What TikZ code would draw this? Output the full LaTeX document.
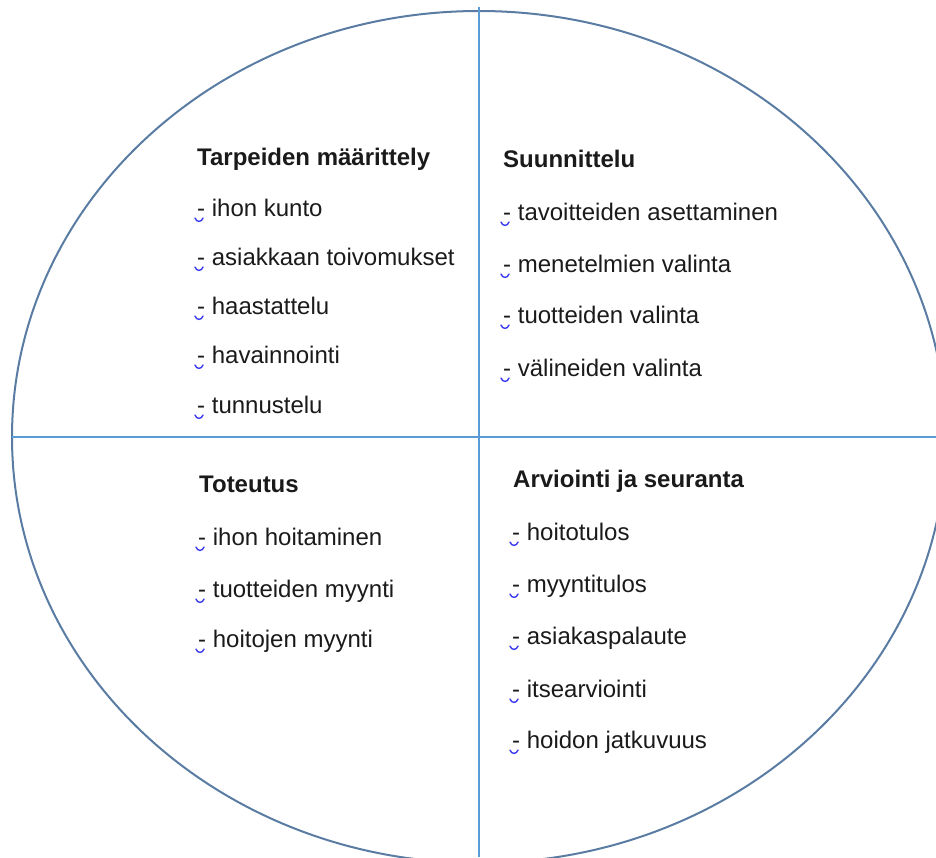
\documentclass[tikz,border=0pt]{standalone}
\usepackage{fontspec}
\setmainfont{Liberation Sans}
\definecolor{ellcol}{HTML}{5A7CA3}
\definecolor{divcol}{HTML}{5B9BD5}
\definecolor{txtcol}{HTML}{1A1A1A}
\definecolor{markcol}{HTML}{3A3AF0}
\tikzset{
  item/.style={anchor=base west, inner sep=0pt, text=txtcol, font=\fontsize{24}{28}\selectfont},
  ttl/.style={item, font=\bfseries\fontsize{24}{28}\selectfont},
  gmarkline/.style={draw=markcol, line width=1.4pt, line cap=round, line join=round},
  ellline/.style={draw=ellcol, line width=2pt},
  divline/.style={draw=divcol, line width=1.5pt}
}
\newcommand\gmark[1]{\draw[gmarkline] ([xshift=-2pt,yshift=-2pt]#1.base west) .. controls +(1.5pt,-4.5pt) and +(-1.5pt,-4.5pt) .. +(8pt,0pt);}
\begin{document}
\begin{tikzpicture}[x=1pt,y=-1pt]
\useasboundingbox (0,0) rectangle (936,857);
\clip (0,0) rectangle (936,857);
% ellipse and dividers
\draw[ellline] (479,437) ellipse [x radius=467, y radius=426];
\coordinate (vtop) at (479,7);
\coordinate (vbot) at (479,857);
\coordinate (hleft) at (12,437);
\coordinate (hright) at (936,437);
\draw[divline] (vtop) -- (vbot);
\draw[divline] (hleft) -- (hright);
% top left
\node[ttl] (t1) at (197,165) {Tarpeiden määrittely};
\node[item] (a1) at (197,216) {- ihon kunto};
\node[item] (a2) at (197,265) {- asiakkaan toivomukset};
\node[item] (a3) at (197,314) {- haastattelu};
\node[item] (a4) at (197,363) {- havainnointi};
\node[item] (a5) at (197,413) {- tunnustelu};
% top right
\node[ttl] (t2) at (503,167) {Suunnittelu};
\node[item] (b1) at (503,220) {- tavoitteiden asettaminen};
\node[item] (b2) at (503,272) {- menetelmien valinta};
\node[item] (b3) at (503,323) {- tuotteiden valinta};
\node[item] (b4) at (503,376) {- välineiden valinta};
% bottom left
\node[ttl] (t3) at (199,492) {Toteutus};
\node[item] (c1) at (198,545) {- ihon hoitaminen};
\node[item] (c2) at (198,597) {- tuotteiden myynti};
\node[item] (c3) at (198,647) {- hoitojen myynti};
% bottom right
\node[ttl] (t4) at (513,487) {Arviointi ja seuranta};
\node[item] (d1) at (512,540) {- hoitotulos};
\node[item] (d2) at (512,592) {- myyntitulos};
\node[item] (d3) at (512,644) {- asiakaspalaute};
\node[item] (d4) at (512,697) {- itsearviointi};
\node[item] (d5) at (512,748) {- hoidon jatkuvuus};
% marks under the dashes
\foreach \n in {a1,a2,a3,a4,a5,b1,b2,b3,b4,c1,c2,c3,d1,d2,d3,d4,d5}{\gmark{\n}}
\end{tikzpicture}
\end{document}
